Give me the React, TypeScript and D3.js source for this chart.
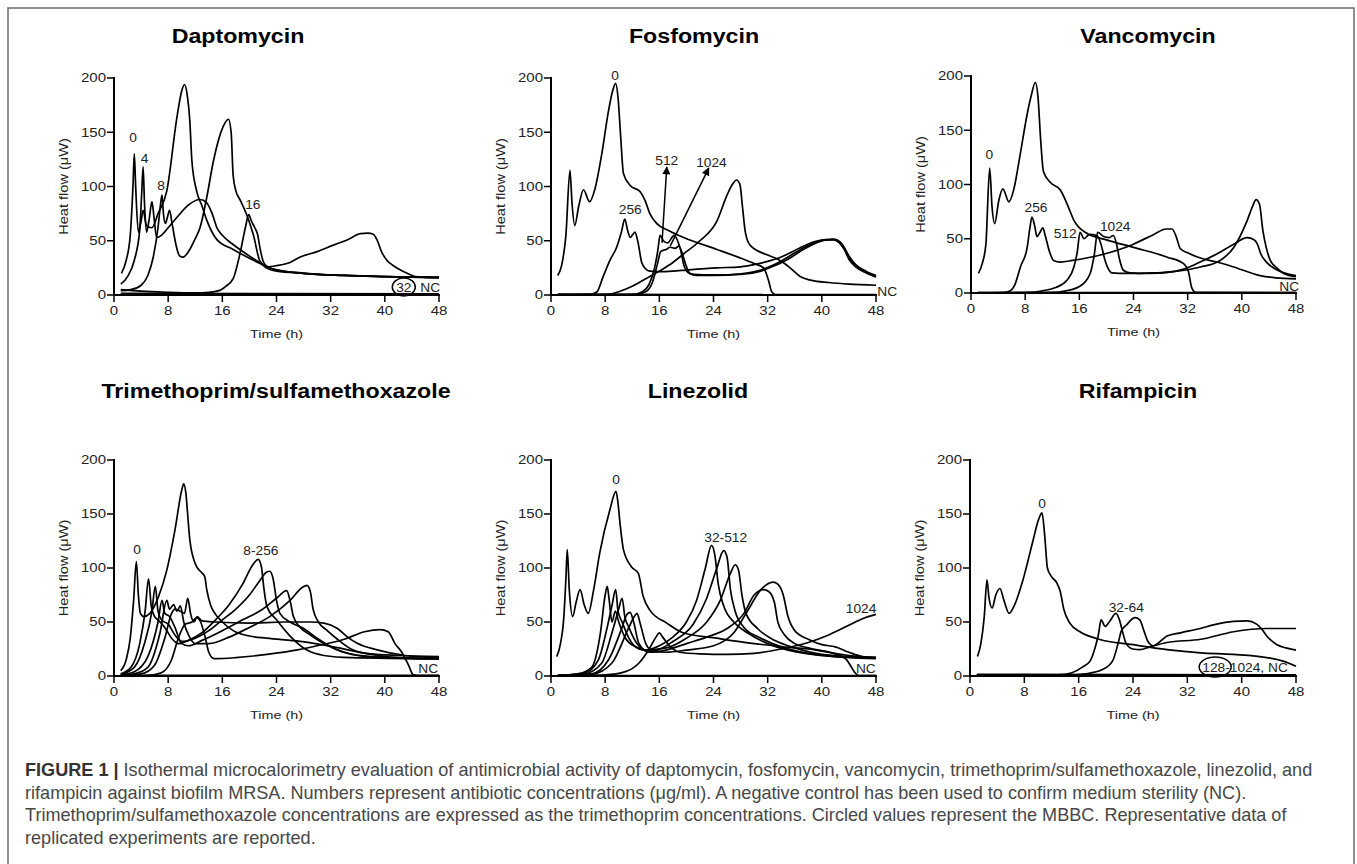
import React from "react";
import * as d3 from "d3";

type Pt = [number, number];
type Note = { text: string; t: number; v: number; anchor?: string };

const timeTicks = [0, 8, 16, 24, 32, 40, 48];
const heatTicks = [0, 50, 100, 150, 200];

// ---- Daptomycin (time h, heat flow µW)
const dapto0: Pt[] = [[1.1,20],[1.8,32],[2.4,55],[2.8,100],[3.0,130],[3.2,100],[3.6,58],[4.0,68],[4.3,78],[4.8,64],[5.6,62],[6.5,75],[7.8,96],[9.3,164],[10.0,188],[10.4,194],[10.8,185],[11.2,160],[11.5,124],[12.2,96],[13.0,82],[13.7,69],[15.2,51],[17.6,42],[20.6,32],[23.5,24],[28,20],[34,18],[40,17],[48,16]];
const dapto4: Pt[] = [[1,10],[2,17],[3,32],[3.8,60],[4.1,95],[4.3,118],[4.5,85],[4.8,58],[5.2,70],[5.6,86],[5.9,72],[6.3,53],[7,55],[8,62],[9.5,73],[11,83],[12.7,88],[13.7,85],[14.5,75],[15.2,62],[16,55],[17.5,47],[19.5,38],[21.5,30],[23.5,24],[28,20],[34,18],[40,17],[48,16.5]];
const dapto8: Pt[] = [[1,4],[2.5,5],[4,9],[5,18],[5.8,35],[6.5,62],[6.9,85],[7.1,92],[7.3,75],[7.6,66],[7.9,72],[8.2,78],[8.6,65],[9.2,45],[9.7,36],[10.2,35],[11,40],[12,52],[12.7,62],[13.7,90],[14.7,124],[16.1,155],[16.9,162],[17.3,150],[17.6,110],[18.0,96],[18.6,88],[19.6,74],[20.6,55],[21.5,32],[22.5,25],[24,22],[28,20],[34,18],[40,17],[48,16]];
const dapto16: Pt[] = [[1,5],[4,3.5],[8,2.5],[12,2],[14,2.5],[15.5,4],[16.5,8],[17.6,15],[18.6,38],[19.4,62],[19.9,74],[20.3,68],[20.8,62],[21.2,56],[21.6,42],[22.1,30],[22.8,26],[24,27],[26,30],[27.5,35],[30,40],[32.4,46],[34.5,51],[36.4,56.5],[37.5,57],[38.3,56],[38.9,50],[39.5,40],[40.3,32],[41.5,26],[43.3,20],[44.5,17],[48,16]];
const dapto32: Pt[] = [[1,1.5],[48,1]];
const daptoNC: Pt[] = [[1,0.5],[48,0.3]];
const daptoNotes: Note[] = [
  { text: "0", t: 2.8, v: 141 }, { text: "4", t: 4.5, v: 121.5 }, { text: "8", t: 6.95, v: 97 },
  { text: "16", t: 20.5, v: 79 }, { text: "32", t: 42.8, v: 2.8 }, { text: "NC", t: 46.7, v: 2.8 },
];
const daptoRings: Pt[] = [[42.8, 7.4]];

// ---- Fosfomycin
const fosfo0: Pt[] = [[1,18],[1.6,28],[2.2,55],[2.8,115],[3.1,85],[3.5,64],[4.1,82],[4.8,97],[5.7,86],[6.5,98],[7.5,130],[8.5,170],[9.1,188],[9.55,195],[9.9,182],[10.3,145],[10.7,112],[11.7,101],[13.2,95],[13.9,87],[14.6,75],[15.6,66],[17.5,59],[19.6,53],[24.5,42],[28,34],[30,29],[31.4,25],[32.1,14],[32.6,3],[33.2,0.3],[48,0.3]];
const fosfo256: Pt[] = [[1,0.5],[6,0.8],[6.8,3],[7.7,17],[8.7,32],[9.7,44],[10.4,58],[10.9,70],[11.3,60],[11.7,53],[12.1,56],[12.4,58],[12.8,50],[13.4,30],[14,24],[14.6,22],[16,21.5],[18,22],[20,23],[24.5,25],[28,26],[30,28],[32,31],[34,35],[36,41],[38,47],[40,50.5],[41.5,51],[42.5,49],[43.2,44],[44,36],[45,28],[46.5,22],[48,18]];
const fosfo512: Pt[] = [[1,0.3],[12,0.5],[13.5,3],[14.5,10],[15.3,25],[15.8,42],[16.1,55],[16.6,50],[17.2,48],[18.2,55],[18.7,50],[19.2,40],[19.6,28],[20.2,21],[21,19],[24,18.5],[28,19],[31,22],[33,27],[35,33],[37,41],[39,47.5],[40.5,50.5],[41.7,51],[42.6,48],[43.3,42],[44,33],[45,26],[46.5,20.5],[48,16.5]];
const fosfo1024: Pt[] = [[1,0.2],[12.5,0.4],[14,3],[15,12],[15.7,28],[16.2,40],[17,42],[17.6,44],[18.3,43],[18.9,45],[19.4,38],[19.9,28],[20.5,20],[21.5,18],[24,18],[28,19.5],[31,23],[33,28],[35,35],[37,42.5],[39,48.5],[40.5,51],[41.8,51.5],[42.7,49],[43.4,43],[44.1,34],[45,27],[46.5,21],[48,17]];
const fosfoLate: Pt[] = [[1,0],[8.5,0.5],[10,3],[12,8],[14,15],[16,22],[18,30],[19.6,38],[22,50],[24.5,68],[26,92],[26.8,102],[27.4,106],[27.9,102],[28.3,80],[28.7,58],[29.4,46],[31.9,37],[33.5,33],[34.3,30],[35.5,24],[36.8,17],[38.5,13.5],[41,11.5],[44,10],[48,9]];
const fosfoNC: Pt[] = [[1,0.5],[48,0.3]];
const fosfoNotes: Note[] = [
  { text: "0", t: 9.45, v: 198 }, { text: "256", t: 11.7, v: 74.5 }, { text: "512", t: 17.1, v: 120 },
  { text: "1024", t: 23.7, v: 118 }, { text: "NC", t: 48.2, v: -1.2, anchor: "start" },
];
const fosfoArrows: [Pt, Pt][] = [[[16.4, 48], [17.1, 118]], [[17.6, 45], [23.3, 117]]];

// ---- Vancomycin
const vanco0: Pt[] = [[1.1,18],[1.7,28],[2.2,45],[2.76,115],[3.1,80],[3.5,64],[4.1,85],[4.7,96],[5.6,84],[6.3,95],[7.3,129],[8.3,165],[8.9,182],[9.5,194],[9.9,180],[10.3,140],[10.7,112],[11.7,102],[13.2,95],[14.2,82],[15.2,67],[17.1,55],[20,49],[24,42],[29,33],[31.4,27],[32.1,20],[32.6,5],[33.2,0.5],[48,0.3]];
const vanco256: Pt[] = [[1,0.3],[5,0.5],[5.8,2],[6.5,8],[7.3,24],[8.3,42],[8.7,60],[9.0,70],[9.4,62],[9.75,52],[10.2,56],[10.6,60],[11.0,52],[11.6,38],[12.2,30],[13.2,28.5],[15,30],[19.1,35],[24,45],[27,54],[28.8,59],[29.7,59],[30.3,52],[30.9,41],[32,37],[34,32],[36,29],[38.8,24],[42.7,16],[45,14],[48,13]];
const vanco512: Pt[] = [[1,0],[9,0.5],[10.5,2],[12.5,5],[14.2,12],[15.2,24],[15.7,38],[16.1,56],[16.7,50],[17.5,54],[18.6,53],[19.2,45],[19.8,30],[20.3,22],[20.8,18.5],[23,18],[27,18.5],[29,19],[31.5,21],[33.9,24],[36.8,30],[38.8,42],[40.8,67],[41.6,80],[42.1,86],[42.6,82],[43.1,58],[43.6,42],[44.2,30],[45.2,23],[46.2,18],[48,15]];
const vanco1024: Pt[] = [[1,0],[12,0.5],[14,2],[16,6],[17.6,18],[18.2,35],[18.7,56],[19.6,52],[20.4,51],[21.0,53],[21.5,45],[21.9,32],[22.5,21],[23.5,18.5],[26,18],[30,20],[31.4,22],[34,29],[36.3,36],[38.8,45],[40.8,51],[41.8,49],[42.3,45],[42.8,36],[43.7,28],[44.7,23],[46,19],[48,16]];
const vancoNC: Pt[] = [[1,0.3],[48,0.3]];
const vancoNotes: Note[] = [
  { text: "0", t: 2.7, v: 123.5 }, { text: "256", t: 9.6, v: 75 }, { text: "512", t: 13.9, v: 50.7 },
  { text: "1024", t: 21.3, v: 56.7 }, { text: "NC", t: 47.0, v: 1.4 },
];

// ---- Trimethoprim/sulfamethoxazole
const trim0: Pt[] = [[1,5],[1.8,15],[2.4,35],[2.9,70],[3.3,106],[3.6,75],[3.9,58],[4.4,55],[5.3,58],[6.55,73],[7.8,98],[9.0,135],[10.0,172],[10.3,178],[10.6,170],[11.0,140],[11.2,126],[12.0,104],[12.9,96],[13.4,92],[13.7,80],[14.3,65],[14.9,58],[16,50],[17.6,42],[20,37],[22.5,35],[27.5,32],[32.4,27],[37.3,21],[42,19],[48,18]];
const trim8: Pt[] = [[1,2],[2.5,8],[3.8,30],[4.6,60],[5.1,90],[5.5,65],[6,55],[6.5,52],[7.5,45],[8.5,35],[9.5,30],[11,33],[13,40],[15,52],[17,66],[19,85],[20.5,103],[21.3,108],[21.8,100],[22.1,83],[22.6,64],[24,52],[26,37],[28.5,24],[31,19],[35,17],[48,16]];
const trim16: Pt[] = [[1,1.5],[3,8],[4.5,30],[5.6,60],[6.1,83],[6.5,60],[7,52],[8,48],[9,38],[10,32],[12,35],[14,42],[16,52],[18,62],[20,75],[21.5,88],[22.5,96],[23,97],[23.5,90],[24,70],[24.5,58],[26,50],[28,44],[30,35],[33,24],[36,19],[40,17],[48,16]];
const trim32: Pt[] = [[1,1],[3,4],[5,18],[6.5,50],[7.1,70],[7.5,58],[8.2,55],[9,45],[10,30],[11,28],[13,33],[16,42],[19,52],[22,62],[24,72],[25.5,79],[26,70],[26.5,55],[27.5,45],[29,38],[31,30],[34,22],[38,18],[48,16]];
const trim64: Pt[] = [[1,0.5],[3,2],[5,8],[6.8,40],[7.8,70],[8.2,62],[8.8,66],[9.3,60],[9.8,65],[10.3,50],[11,38],[12,30],[14,30],[17,36],[20,45],[23,55],[26,70],[27.8,82],[28.5,84],[29,78],[29.4,62],[30.2,50],[31.5,42],[33,34],[35,25],[38,20],[42,17],[48,16]];
const trim128: Pt[] = [[1,0.5],[4,2],[6,10],[7.5,35],[8.5,58],[9,62],[9.8,60],[10.4,58],[10.9,72],[11.3,58],[11.8,50],[12.3,55],[13,51],[15,50],[20,49],[25,50],[29,50],[31,49],[33,44],[34.5,36],[36,30],[39,24],[43,19],[48,17]];
const trim256: Pt[] = [[1,0],[5,0.5],[7,3],[8.5,15],[9.5,35],[10.5,48],[11.5,50],[12.2,54],[12.8,50],[13.5,35],[14,22],[14.8,16],[18,17],[22,19.5],[26,23],[30,28],[34,34],[37,41],[39.3,43],[40.5,41],[41.5,30],[42.5,22],[43.5,10],[44.2,1],[45,0.3],[48,0.3]];
const trimNC: Pt[] = [[1,0.5],[48,0.5]];
const trimNotes: Note[] = [
  { text: "0", t: 3.4, v: 113 }, { text: "8-256", t: 21.7, v: 112 }, { text: "NC", t: 46.4, v: 2.8 },
];

// ---- Linezolid
const lin0: Pt[] = [[0.85,18],[1.4,30],[1.9,55],[2.2,90],[2.4,117],[2.7,80],[3.2,55],[3.7,68],[4.3,80],[4.9,66],[5.5,58],[6.3,80],[7.2,114],[8.7,154],[9.6,171],[9.9,160],[10.2,141],[10.7,117],[11.9,101],[12.9,95],[13.6,74],[14.6,61],[17.1,49],[19.5,40],[24.5,35],[29.4,30.5],[34.3,27],[39.2,24],[41.7,21],[43.5,16],[44.2,10],[44.9,3],[45.5,0.3],[48,0.3]];
const lin32: Pt[] = [[1,0.5],[4,2],[6,8],[7.3,40],[8.0,75],[8.3,83],[8.6,70],[9,50],[9.5,60],[10,50],[11,35],[12.5,27],[14,24],[16,28],[18,36],[20,50],[21.5,70],[22.8,100],[23.7,121],[24.2,112],[24.7,85],[25.5,65],[27,50],[29,40],[32,30],[35,24],[40,19],[48,16]];
const lin64: Pt[] = [[1,0.5],[5,3],[7,15],[8.3,45],[9,65],[9.55,80],[9.9,60],[10.5,50],[11.5,35],[13,25],[15,23],[18,32],[21,48],[23,72],[24.5,100],[25.5,116],[26,110],[26.5,80],[27.2,60],[28.5,45],[31,35],[34,27],[38,21],[42,18],[48,17]];
const lin128: Pt[] = [[1,0.3],[5,2],[7.5,12],[9,40],[10,62],[10.5,72],[10.9,55],[11.5,45],[12.5,32],[14,24],[17,26],[20,35],[23,50],[25,70],[26.5,95],[27.2,103],[27.7,98],[28.2,75],[28.8,58],[30.5,44],[33,33],[36,26],[40,20],[48,17]];
const lin256: Pt[] = [[1,0.3],[6,2],[8.5,15],[10.5,45],[11.2,57],[11.7,59],[12.2,50],[13,30],[14.5,22],[17,24],[20,30],[23,36],[26,44],[28.5,58],[30,75],[31.4,80],[32.2,78],[33,68],[33.5,50],[34.5,38],[36,30],[38,26],[41,22],[44,19],[48,17]];
const lin512: Pt[] = [[1,0.2],[6,1.5],[9,12],[11.5,45],[12.3,55],[12.7,58],[13.2,48],[14,30],[15,23],[17,22],[20,24],[24,28],[27,40],[29,60],[31,80],[32.8,87],[33.5,85],[34.3,75],[35,55],[36,42],[38,34],[40,29],[42,27],[44,22],[46,18],[48,17]];
const lin1024: Pt[] = [[1,0],[8,1],[11,4],[13,12],[14.5,25],[15.5,36],[16,40],[16.5,36],[17.5,28],[19,22],[22,20.5],[26,20],[30,21],[34,25],[38,31],[41,38],[44,47],[46,53],[48,57]];
const linNC: Pt[] = [[1,0.3],[48,0.3]];
const linNotes: Note[] = [
  { text: "0", t: 9.6, v: 178 }, { text: "32-512", t: 25.8, v: 124 }, { text: "1024", t: 45.8, v: 58.5 },
  { text: "NC", t: 46.5, v: 2.8 },
];

// ---- Rifampicin
const rif0: Pt[] = [[1.1,18],[1.6,30],[2.1,55],[2.5,89],[2.8,72],[3.25,63],[3.8,75],[4.4,81],[5,70],[5.75,58],[6.5,65],[7.8,89],[9.3,126],[10.1,145],[10.6,151],[11.0,130],[11.4,100],[12,92],[12.8,86],[13.3,78],[13.8,62],[14.7,49],[16.2,41],[19,34],[24,29],[29,24.5],[34,21.5],[38.8,20],[43.7,17],[46.2,13.5],[48,9]];
const rif32: Pt[] = [[1,0.5],[10,0.5],[13,1],[15,3],[16.5,8],[17.7,14],[18.5,28],[18.9,38],[19.3,52],[19.9,46],[20.5,50],[21.5,58],[22,52],[22.5,40],[23,30],[24,25],[25,24.5],[26.5,27],[29,31],[34,34],[38.8,41],[43.7,44],[48,44]];
const rif64: Pt[] = [[1,0.5],[14,0.5],[17,2],[19.5,6],[21,14],[21.8,30],[22.3,42],[23,47],[24.3,54],[25,52],[25.6,42],[26.2,32],[27,28],[28,32],[29,37],[31,40],[33.9,44],[36,47.5],[38.8,50.5],[40.8,51],[42.2,48],[43,43],[43.7,37],[45.2,29],[46.5,26],[48,24]];
const rifHigh: Pt[] = [[1,1.5],[48,1]];
const rifNC: Pt[] = [[1,0.5],[48,0.3]];
const rifNotes: Note[] = [
  { text: "0", t: 10.6, v: 155.5 }, { text: "32-64", t: 23.0, v: 59 }, { text: "128-1024, NC", t: 40.5, v: 3.7 },
];
const rifRings: Pt[] = [[36.1, 8.3]];

const captionLines = [
  "Isothermal microcalorimetry evaluation of antimicrobial activity of daptomycin, fosfomycin, vancomycin, trimethoprim/sulfamethoxazole, linezolid, and",
  "rifampicin against biofilm MRSA. Numbers represent antibiotic concentrations (μg/ml). A negative control has been used to confirm medium sterility (NC).",
  "Trimethoprim/sulfamethoxazole concentrations are expressed as the trimethoprim concentrations. Circled values represent the MBBC. Representative data of",
  "replicated experiments are reported.",
];

type PanelCfg = {
  title: string; titleX: number; titleY: number;
  left: number; right: number; top: number; bottom: number;
  curves: Pt[][]; notes: Note[]; rings?: Pt[]; ringR?: [number, number]; arrows?: [Pt, Pt][];
};

const panels: PanelCfg[] = [
  { title: "Daptomycin", titleX: 238, titleY: 43, left: 114, right: 439, top: 78, bottom: 295,
    curves: [dapto0, dapto4, dapto8, dapto16, dapto32, daptoNC], notes: daptoNotes, rings: daptoRings, ringR: [11.5, 9] },
  { title: "Fosfomycin", titleX: 694, titleY: 43, left: 551, right: 876, top: 78, bottom: 295,
    curves: [fosfo0, fosfo256, fosfo512, fosfo1024, fosfoLate, fosfoNC], notes: fosfoNotes, arrows: fosfoArrows },
  { title: "Vancomycin", titleX: 1148, titleY: 43, left: 971, right: 1296, top: 76, bottom: 293,
    curves: [vanco0, vanco256, vanco512, vanco1024, vancoNC], notes: vancoNotes },
  { title: "Trimethoprim/sulfamethoxazole", titleX: 276, titleY: 398, left: 114, right: 439, top: 460, bottom: 676,
    curves: [trim0, trim8, trim16, trim32, trim64, trim128, trim256, trimNC], notes: trimNotes },
  { title: "Linezolid", titleX: 698, titleY: 398, left: 551, right: 876, top: 460, bottom: 676,
    curves: [lin0, lin32, lin64, lin128, lin256, lin512, lin1024, linNC], notes: linNotes },
  { title: "Rifampicin", titleX: 1138, titleY: 398, left: 970, right: 1296, top: 460, bottom: 676,
    curves: [rif0, rif32, rif64, rifHigh, rifNC], notes: rifNotes, rings: rifRings, ringR: [16, 10] },
];

const FONT = "'Liberation Sans', Arial, Helvetica, sans-serif";

function SText({ x, y, sx = 1, size, weight = 400, anchor = "middle", fill = "#111", dy, children }: any) {
  return (
    <text transform={`translate(${x},${y}) scale(${sx},1)`} fontSize={size} fontWeight={weight}
      textAnchor={anchor} fill={fill} dy={dy}>{children}</text>
  );
}

function Panel({ cfg }: { cfg: PanelCfg }) {
  const x = d3.scaleLinear().domain([0, 48]).range([cfg.left, cfg.right]);
  const y = d3.scaleLinear().domain([0, 200]).range([cfg.bottom, cfg.top]);
  const line = d3.line<Pt>().x(d => x(d[0])).y(d => y(d[1])).curve(d3.curveMonotoneX);
  const cx = (cfg.left + cfg.right) / 2;
  const cy = (cfg.top + cfg.bottom) / 2;

  return (
    <g>
      <SText x={cfg.titleX} y={cfg.titleY} sx={1.16} size={20} weight={700} fill="#000">{cfg.title}</SText>

      {cfg.curves.map((c, i) => (
        <path key={i} d={line(c) || ""} fill="none" stroke="#000" strokeWidth={1.7} strokeLinejoin="round" />
      ))}

      {(cfg.arrows || []).map(([a, b], i) => (
        <line key={i} x1={x(a[0])} y1={y(a[1])} x2={x(b[0])} y2={y(b[1])} stroke="#000" strokeWidth={1.5} markerEnd="url(#arrowHead)" />
      ))}

      {/* axes */}
      <line x1={x(0)} x2={x(48)} y1={y(0)} y2={y(0)} stroke="#000" strokeWidth={2} strokeLinecap="square" />
      <line x1={x(0)} x2={x(0)} y1={y(0)} y2={y(200)} stroke="#000" strokeWidth={2} strokeLinecap="square" />
      {heatTicks.map(v => (
        <g key={"y" + v}>
          <line x1={x(0) - 7} x2={x(0)} y1={y(v)} y2={y(v)} stroke="#000" strokeWidth={1.5} />
          <SText x={x(0) - 8} y={y(v)} dy="0.36em" sx={1.25} size={12} anchor="end" fill="#222">{v}</SText>
        </g>
      ))}
      {timeTicks.map(t => (
        <g key={"x" + t}>
          <line x1={x(t)} x2={x(t)} y1={y(0)} y2={y(0) + 7} stroke="#000" strokeWidth={1.5} />
          <SText x={x(t)} y={y(0) + 20} sx={1.25} size={12} fill="#222">{t}</SText>
        </g>
      ))}
      <SText x={cx} y={cfg.bottom + 43} sx={1.25} size={11.5} fill="#222">Time (h)</SText>
      <text transform={`translate(${cfg.left - 51},${cy}) rotate(-90) scale(1.12,1)`} textAnchor="middle"
        dy="0.35em" fontSize={13} fill="#222">Heat flow (μW)</text>

      {cfg.notes.map((n, i) => (
        <SText key={i} x={x(n.t)} y={y(n.v)} sx={1.1} size={12.5} anchor={n.anchor || "middle"} fill="#222">{n.text}</SText>
      ))}
      {(cfg.rings || []).map((r, i) => (
        <ellipse key={i} cx={x(r[0])} cy={y(r[1])} rx={cfg.ringR![0]} ry={cfg.ringR![1]} fill="none" stroke="#000" strokeWidth={1.5} />
      ))}
    </g>
  );
}

export default function App() {
  return (
    <svg width={1357} height={864} style={{ position: "absolute", left: 0, top: 0, background: "#fff" }}
      fontFamily={FONT}>
      <defs>
        <marker id="arrowHead" viewBox="0 0 10 10" refX={9} refY={5} markerUnits="userSpaceOnUse"
          markerWidth={9} markerHeight={8} orient="auto">
          <path d="M0,0 L10,5 L0,10 z" fill="#000" />
        </marker>
      </defs>
      <rect x={0} y={0} width={1357} height={864} fill="#fff" />
      <path d="M8,870 V8 H1354 V870" fill="none" stroke="#6b6b6b" strokeWidth={1.5} />
      {panels.map((p, i) => <Panel key={i} cfg={p} />)}
      {captionLines.map((l, i) => (
        <text key={i} x={25} y={776 + i * 22.5} fontSize={18.1} fill="#474747">
          {i === 0 && <tspan fontWeight={700} fill="#333">FIGURE 1 | </tspan>}
          {l}
        </text>
      ))}
    </svg>
  );
}
